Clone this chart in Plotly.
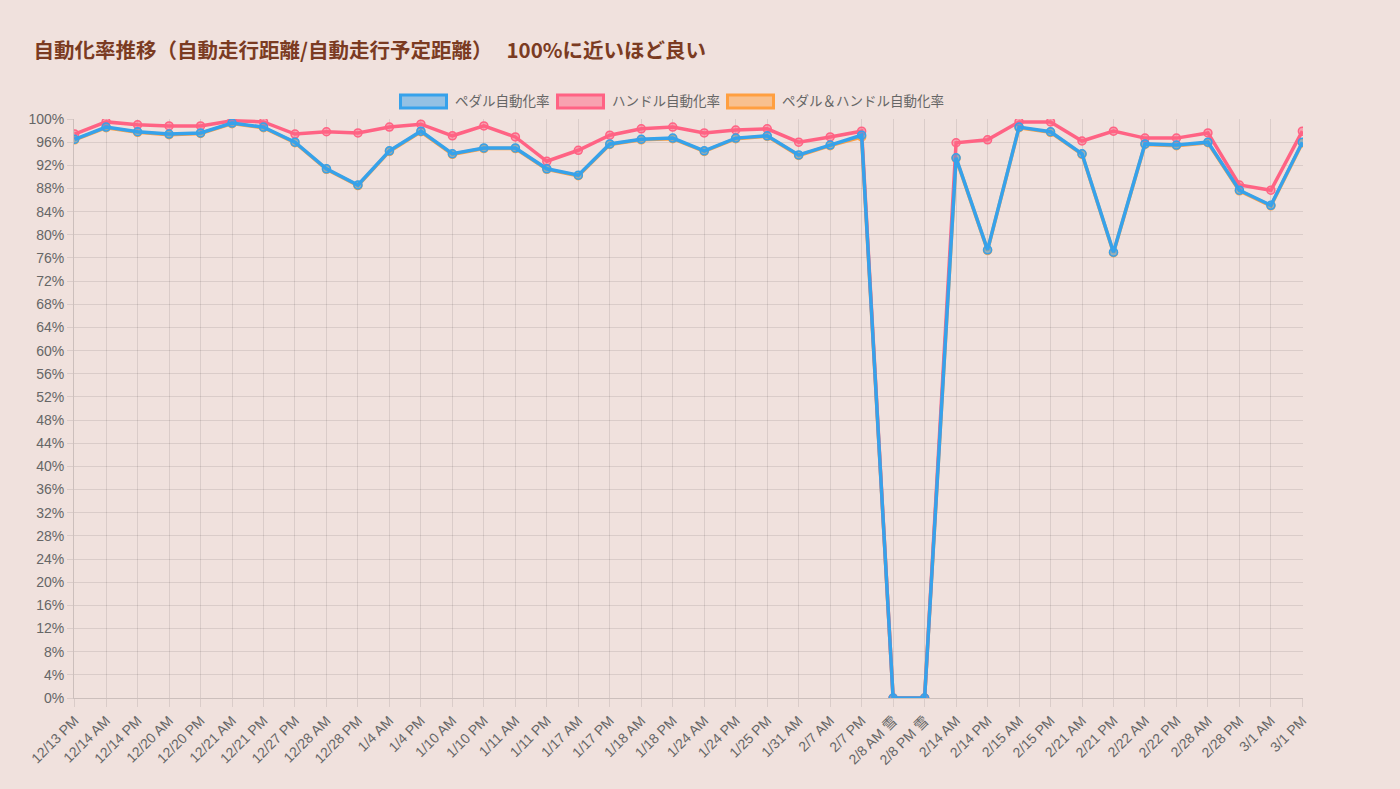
import plotly.graph_objects as go

# ラベル (x軸)
labels = [
    "12/13 PM", "12/14 AM", "12/14 PM", "12/20 AM", "12/20 PM", "12/21 AM", "12/21 PM",
    "12/27 PM", "12/28 AM", "12/28 PM", "1/4 AM", "1/4 PM", "1/10 AM", "1/10 PM",
    "1/11 AM", "1/11 PM", "1/17 AM", "1/17 PM", "1/18 AM", "1/18 PM", "1/24 AM",
    "1/24 PM", "1/25 PM", "1/31 AM", "2/7 AM", "2/7 PM", "2/8 AM 雪", "2/8 PM 雪",
    "2/14 AM", "2/14 PM", "2/15 AM", "2/15 PM", "2/21 AM", "2/21 PM", "2/22 AM",
    "2/22 PM", "2/28 AM", "2/28 PM", "3/1 AM", "3/1 PM",
]

# ペダル自動化率 (%)
pedal = [
    96.5, 98.6, 97.8, 97.4, 97.6, 99.3, 98.6, 96.0, 91.4, 88.6,
    94.5, 97.9, 94.0, 95.0, 95.0, 91.4, 90.3, 95.7, 96.5, 96.7,
    94.5, 96.7, 97.1, 93.8, 95.5, 97.2, 0.0, 0.0, 93.3, 77.4,
    98.6, 97.8, 94.0, 77.0, 95.7, 95.5, 96.0, 87.7, 85.1, 96.0,
]

# ハンドル自動化率 (%)
handle = [
    97.4, 99.5, 99.0, 98.8, 98.8, 99.7, 99.5, 97.4, 97.8, 97.6,
    98.6, 99.1, 97.1, 98.8, 96.9, 92.7, 94.6, 97.2, 98.3, 98.6,
    97.6, 98.1, 98.3, 96.0, 96.9, 97.9, 0.0, 0.0, 95.9, 96.4,
    99.5, 99.5, 96.2, 97.9, 96.7, 96.7, 97.6, 88.6, 87.7, 97.9,
]

# ペダル＆ハンドル自動化率 (%)
both = [
    96.4, 98.5, 97.7, 97.3, 97.5, 99.2, 98.5, 95.9, 91.3, 88.5,
    94.4, 97.8, 93.9, 94.9, 94.9, 91.3, 90.2, 95.6, 96.4, 96.6,
    94.4, 96.6, 97.0, 93.7, 95.4, 96.9, 0.0, 0.0, 93.2, 77.3,
    98.5, 97.7, 93.9, 76.9, 95.6, 95.4, 95.9, 87.6, 85.0, 95.9,
]

y_ticks = list(range(0, 101, 4))

W, H = 1400, 789
ML, MR, MT, MB = 74, 97, 119, 91
BG = "#F0E1DD"
GRID = "rgba(0,0,0,0.09)"
FONT = "Liberation Sans, Noto Sans CJK JP, sans-serif"

series = [
    ("ペダル自動化率", pedal, "rgb(54,162,235)", "rgba(54,162,235,0.5)"),
    ("ハンドル自動化率", handle, "rgb(255,99,132)", "rgba(255,99,132,0.5)"),
    ("ペダル＆ハンドル自動化率", both, "rgb(255,159,64)", "rgba(255,159,64,0.5)"),
]


def px_to_paper_x(px):
    return (px - ML) / (W - ML - MR)


def px_to_paper_y(py):
    return (H - MB - py) / (H - MT - MB)


fig = go.Figure()

# Chart.js は最初のデータセットを最前面に描くので逆順で追加
for name, vals, line_c, fill_c in reversed(series):
    fig.add_trace(go.Scatter(
        x=labels,
        y=vals,
        name=name,
        mode="lines+markers",
        showlegend=False,
        line=dict(color=line_c, width=3.5),
        marker=dict(size=8, color=fill_c, line=dict(color=line_c, width=1.5)),
    ))

# 凡例 (Chart.js 風のボックス)
legend_left = [399, 556, 726]
for (name, vals, line_c, fill_c), left in zip(series, legend_left):
    fig.add_shape(
        type="rect", xref="paper", yref="paper",
        x0=px_to_paper_x(left + 1.5), x1=px_to_paper_x(left + 47.5),
        y0=px_to_paper_y(108), y1=px_to_paper_y(95),
        line=dict(color=line_c, width=3),
        fillcolor=fill_c,
    )
    fig.add_annotation(
        xref="paper", yref="paper",
        x=px_to_paper_x(left + 54), y=px_to_paper_y(101.5),
        xanchor="left", yanchor="middle",
        text=name, showarrow=False,
        font=dict(size=13.5, color="#666666"),
    )

fig.update_layout(
    width=W,
    height=H,
    paper_bgcolor=BG,
    plot_bgcolor=BG,
    font=dict(family=FONT, size=14, color="#666666"),
    title=dict(
        text="<b>自動化率推移（自動走行距離/自動走行予定距離）   100%に近いほど良い</b>",
        x=0.024, xanchor="left",
        y=0.935, yanchor="middle",
        font=dict(family="Noto Sans CJK JP, sans-serif", size=20.5, color="#7B3B22"),
    ),
    showlegend=False,
    margin=dict(l=ML, r=MR, t=MT, b=MB),
)

fig.update_xaxes(
    type="category",
    tickangle=-45,
    showgrid=True,
    gridcolor=GRID,
    ticks="outside",
    ticklen=8,
    tickcolor=GRID,
    showline=True,
    linecolor="rgba(0,0,0,0.15)",
    tickfont=dict(size=14, color="#666666"),
    range=[-0.02, len(labels) - 0.98],
)

fig.update_yaxes(
    range=[0, 100],
    tickvals=y_ticks,
    ticktext=[f"{v}%" for v in y_ticks],
    showgrid=True,
    gridcolor=GRID,
    zeroline=False,
    showline=True,
    linecolor="rgba(0,0,0,0.15)",
    ticks="outside",
    ticklen=6,
    tickcolor=GRID,
    tickfont=dict(size=14, color="#666666"),
)

fig.write_html(
    "out.html",
    config={"displayModeBar": False},
    post_script="document.body.style.margin='0';",
)
